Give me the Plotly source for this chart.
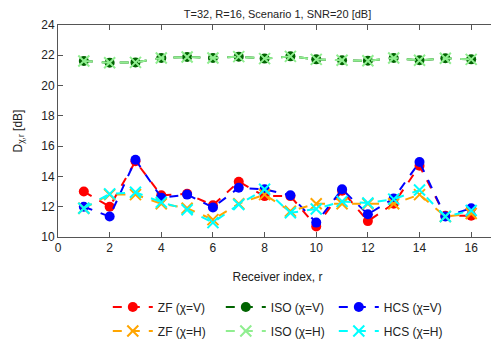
import plotly.graph_objects as go

receivers = list(range(1, 17))

zf_v = [13.0, 12.0, 15.0, 12.75, 12.85, 12.1, 13.65, 12.7, 12.7, 10.7, 13.05, 11.05, 12.2, 14.7, 11.4, 11.4]
zf_h = [11.9, 12.8, 12.8, 12.2, 11.9, 11.15, 12.2, 12.8, 11.7, 12.2, 12.2, 12.2, 12.2, 12.8, 11.35, 11.55]
iso_v = [21.62, 21.51, 21.53, 21.82, 21.89, 21.82, 21.91, 21.78, 21.93, 21.73, 21.67, 21.64, 21.82, 21.67, 21.8, 21.73]
iso_h = [21.62, 21.51, 21.53, 21.82, 21.89, 21.82, 21.91, 21.78, 21.93, 21.73, 21.67, 21.64, 21.82, 21.67, 21.8, 21.73]
hcs_v = [12.0, 11.35, 15.1, 12.6, 12.8, 11.95, 13.25, 13.15, 12.75, 10.95, 13.15, 11.5, 12.55, 14.95, 11.35, 11.9]
hcs_h = [11.9, 12.85, 12.95, 12.3, 11.8, 10.95, 12.15, 13.15, 11.6, 11.85, 12.35, 12.25, 12.5, 13.1, 11.35, 11.75]

# (name, values, colour, marker symbol, legend row)
series = [
    ('ZF (χ=V)', zf_v, '#ff0000', 'circle', 'legend'),
    ('ISO (χ=V)', iso_v, '#006400', 'circle', 'legend'),
    ('HCS (χ=V)', hcs_v, '#0000ff', 'circle', 'legend'),
    ('ZF (χ=H)', zf_h, '#ffa500', 'x-thin', 'legend2'),
    ('ISO (χ=H)', iso_h, '#90ee90', 'x-thin', 'legend2'),
    ('HCS (χ=H)', hcs_h, '#00ffff', 'x-thin', 'legend2'),
]

fig = go.Figure()
for name, vals, color, sym, leg in series:
    if sym == 'circle':
        marker = dict(symbol=sym, size=10, color=color)
    else:
        marker = dict(symbol=sym, size=11, color=color, line=dict(color=color, width=2))
    fig.add_trace(go.Scatter(
        x=receivers, y=vals, name=name, mode='lines+markers',
        line=dict(color=color, width=2, dash='dash'),
        marker=marker, legend=leg,
    ))

axis_style = dict(showgrid=False, zeroline=False, showline=True, linecolor='#555555',
                  linewidth=1, mirror='ticks', ticks='inside', ticklen=5, tickcolor='#555555',
                  tickfont=dict(size=12, color='#222222'))

# the page body keeps its default 8px margin, so the layout is nudged up/left
legend_style = dict(orientation='h', xref='container', x=0.2, xanchor='left',
                    yref='container', yanchor='middle',
                    entrywidth=58, entrywidthmode='pixels', itemwidth=40,
                    font=dict(size=12), bgcolor='rgba(0,0,0,0)')

fig.update_layout(
    width=499, height=342,
    margin=dict(l=50, r=10, t=17, b=113, autoexpand=False),
    plot_bgcolor='white', paper_bgcolor='white',
    font=dict(family='Liberation Sans, Arial, sans-serif', size=12, color='#222222'),
    title=dict(text='T=32, R=16, Scenario 1, SNR=20 [dB]', xref='paper', x=0.5, xanchor='center',
               y=0.982, yanchor='middle', font=dict(size=11)),
    xaxis=dict(range=[0, 17], tickvals=list(range(0, 17, 2)),
               title=dict(text='Receiver index, r', font=dict(size=12), standoff=18), **axis_style),
    yaxis=dict(range=[10, 24], tickvals=list(range(10, 25, 2)),
               title=dict(text='D<sub>χ,r</sub> [dB]', font=dict(size=12), standoff=16), **axis_style),
    showlegend=True,
    legend=dict(y=0.1257, **legend_style),
    legend2=dict(y=0.0556, **legend_style),
)

fig.write_html("out.html")
